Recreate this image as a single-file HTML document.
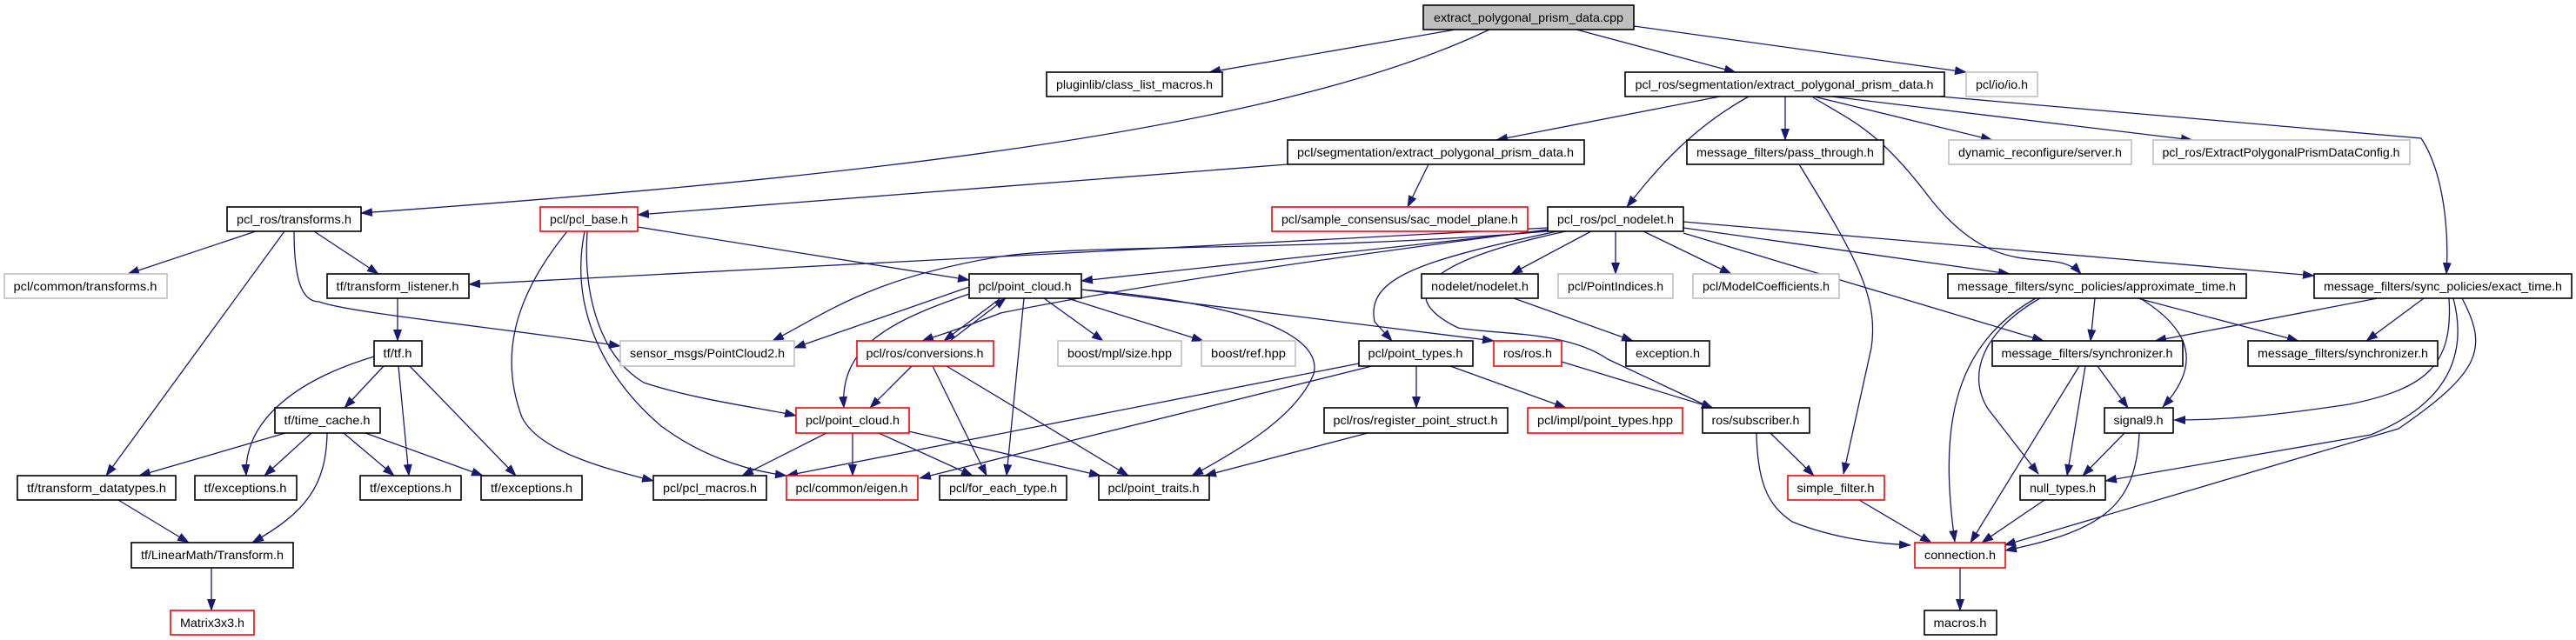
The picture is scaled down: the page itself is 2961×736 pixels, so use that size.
<!DOCTYPE html>
<html><head><meta charset="utf-8"><style>
html,body{margin:0;padding:0;background:#fff;}
svg{display:block;}
text{font-family:"Liberation Sans",sans-serif;font-size:14px;fill:#000;}
.b{fill:#fff;stroke:#000;stroke-width:1.6;}
.g{fill:#fff;stroke:#bfbfbf;stroke-width:1.6;}
.r{fill:#fff;stroke:#ff0000;stroke-width:1.6;}
.e{fill:none;stroke:#191970;stroke-width:1.3;marker-end:url(#a);}
</style></head><body>
<svg width="2961" height="736" viewBox="0 0 2961 736" xmlns="http://www.w3.org/2000/svg">
<defs><marker id="a" markerUnits="userSpaceOnUse" markerWidth="14" markerHeight="10" refX="13" refY="5" orient="auto"><path d="M0,0 L14,5 L0,10 z" fill="#191970"/></marker></defs>
<g>
<path class="e" d="M1673,34 L1390,83"/>
<path class="e" d="M1712,34 C1450,160 900,210 415,245"/>
<path class="e" d="M1812,34 L1995,83"/>
<path class="e" d="M1878,30 Q2100,60 2260,83"/>
<path class="e" d="M1977,111 L1720,161"/>
<path class="e" d="M2010,111 C1940,150 1900,200 1870,238"/>
<path class="e" d="M2052,111 L2052,161"/>
<path class="e" d="M2085,111 L2290,161"/>
<path class="e" d="M2105,111 L2520,161"/>
<path class="e" d="M2084,112 C2130,140 2160,150 2220,230 C2300,330 2360,280 2392,315"/>
<path class="e" d="M2230,111 L2783,159 C2810,200 2815,270 2812,315"/>
<path class="e" d="M1480,189 L733,247"/>
<path class="e" d="M1642,189 L1618,238"/>
<path class="e" d="M294,266 L147,315"/>
<path class="e" d="M361,266 L435,315"/>
<path class="e" d="M327,266 L122,547"/>
<path class="e" d="M338,266 C338,330 350,347 367,347 C400,360 600,380 713,398"/>
<path class="e" d="M733,261 L1114,322"/>
<path class="e" d="M652,266 C600,330 570,400 600,480 C620,520 700,540 751,553"/>
<path class="e" d="M672,266 C655,350 690,430 760,490 C800,520 850,540 904,547"/>
<path class="e" d="M675,266 C670,340 690,410 740,440 C800,460 880,470 915,478"/>
<path class="e" d="M1779,265 L1243,323"/>
<path class="e" d="M1779,262 L539,327"/>
<path class="e" d="M1779,266 C1500,290 1250,280 1150,295 C1000,320 950,360 888,392"/>
<path class="e" d="M1779,264 C1500,300 1300,330 1150,360 C1100,380 1080,385 1060,392"/>
<path class="e" d="M1829,266 L1737,315"/>
<path class="e" d="M1857,266 L1857,315"/>
<path class="e" d="M1889,266 L1990,315"/>
<path class="e" d="M1935,262 L2310,315"/>
<path class="e" d="M1935,255 L2660,317"/>
<path class="e" d="M1935,268 L2349,392"/>
<path class="e" d="M1790,266 C1630,300 1570,320 1580,370 L1600,392"/>
<path class="e" d="M1800,266 C1640,300 1600,340 1676,377 C1720,385 1800,380 1848,413 L1969,470"/>
<path class="e" d="M1114,330 L913,400"/>
<path class="e" d="M1150,343 L1085,392"/>
<path class="e" d="M1092,392 L1156,343"/>
<path class="e" d="M1114,338 C1020,370 965,400 970,469"/>
<path class="e" d="M1177,343 L1157,547"/>
<path class="e" d="M1200,343 L1268,392"/>
<path class="e" d="M1227,343 L1383,392"/>
<path class="e" d="M1243,333 C1450,350 1520,390 1510,430 C1490,480 1420,520 1370,547"/>
<path class="e" d="M1243,333 L1717,392"/>
<path class="e" d="M1048,421 L1000,469"/>
<path class="e" d="M1072,421 L1134,547"/>
<path class="e" d="M1088,421 L1297,547"/>
<path class="e" d="M950,498 L853,547"/>
<path class="e" d="M980,498 L980,547"/>
<path class="e" d="M1010,498 L1118,547"/>
<path class="e" d="M1040,495 L1265,547"/>
<path class="e" d="M457,343 L457,392"/>
<path class="e" d="M441,421 L396,469"/>
<path class="e" d="M430,410 C330,440 280,490 283,547"/>
<path class="e" d="M458,421 L470,547"/>
<path class="e" d="M471,421 L593,547"/>
<path class="e" d="M328,498 L160,547"/>
<path class="e" d="M358,498 L304,547"/>
<path class="e" d="M376,498 C375,560 350,590 290,624"/>
<path class="e" d="M395,498 L453,547"/>
<path class="e" d="M420,498 L555,547"/>
<path class="e" d="M136,575 L217,624"/>
<path class="e" d="M243,653 L243,702"/>
<path class="e" d="M1562,418 L904,547"/>
<path class="e" d="M1577,421 L1057,550"/>
<path class="e" d="M1628,421 L1628,469"/>
<path class="e" d="M1667,421 L1800,469"/>
<path class="e" d="M1572,498 L1385,547"/>
<path class="e" d="M1795,416 L1969,469"/>
<path class="e" d="M1740,343 L1877,392"/>
<path class="e" d="M2068,189 C2130,290 2160,340 2151,400 L2119,545"/>
<path class="e" d="M2035,498 L2085,547"/>
<path class="e" d="M2019,498 C2020,560 2035,583 2060,600 C2110,620 2160,625 2196,627"/>
<path class="e" d="M2137,575 L2220,624"/>
<path class="e" d="M2408,343 L2403,392"/>
<path class="e" d="M2457,343 L2642,392"/>
<path class="e" d="M2460,343 C2520,380 2530,420 2486,468"/>
<path class="e" d="M2345,343 C2280,380 2260,430 2285,470 L2343,545"/>
<path class="e" d="M2340,343 C2240,400 2230,500 2247,623"/>
<path class="e" d="M2733,343 L2477,392"/>
<path class="e" d="M2786,343 L2720,392"/>
<path class="e" d="M2815,343 C2820,420 2789,447 2700,465 C2600,480 2550,483 2499,483"/>
<path class="e" d="M2820,343 C2840,420 2800,470 2725,500 L2420,553"/>
<path class="e" d="M2830,343 C2860,400 2853,427 2757,493 L2304,627"/>
<path class="e" d="M2411,421 L2446,469"/>
<path class="e" d="M2397,421 L2376,547"/>
<path class="e" d="M2390,421 L2265,624"/>
<path class="e" d="M2442,498 L2394,547"/>
<path class="e" d="M2459,498 C2455,580 2420,610 2305,633"/>
<path class="e" d="M2350,575 L2278,624"/>
<path class="e" d="M2253,653 L2253,702"/>
</g>
<g>
<rect x="1636" y="6" width="242" height="28" fill="#bfbfbf" stroke="#000" stroke-width="1.6"/><text x="1757" y="25" text-anchor="middle" textLength="218" lengthAdjust="spacingAndGlyphs">extract_polygonal_prism_data.cpp</text>
<rect class="b" x="1203" y="83" width="202" height="28"/><text x="1304" y="102" text-anchor="middle" textLength="180" lengthAdjust="spacingAndGlyphs">pluginlib/class_list_macros.h</text>
<rect class="b" x="1868" y="83" width="367" height="28"/><text x="2051" y="102" text-anchor="middle" textLength="343" lengthAdjust="spacingAndGlyphs">pcl_ros/segmentation/extract_polygonal_prism_data.h</text>
<rect class="g" x="2260" y="83" width="82" height="28"/><text x="2301" y="102" text-anchor="middle" textLength="60" lengthAdjust="spacingAndGlyphs">pcl/io/io.h</text>
<rect class="b" x="1480" y="161" width="341" height="28"/><text x="1650" y="180" text-anchor="middle" textLength="318" lengthAdjust="spacingAndGlyphs">pcl/segmentation/extract_polygonal_prism_data.h</text>
<rect class="b" x="1939" y="161" width="226" height="28"/><text x="2052" y="180" text-anchor="middle" textLength="204" lengthAdjust="spacingAndGlyphs">message_filters/pass_through.h</text>
<rect class="g" x="2240" y="161" width="210" height="28"/><text x="2345" y="180" text-anchor="middle" textLength="188" lengthAdjust="spacingAndGlyphs">dynamic_reconfigure/server.h</text>
<rect class="g" x="2475" y="161" width="295" height="28"/><text x="2622" y="180" text-anchor="middle" textLength="273" lengthAdjust="spacingAndGlyphs">pcl_ros/ExtractPolygonalPrismDataConfig.h</text>
<rect class="b" x="261" y="238" width="154" height="28"/><text x="338" y="257" text-anchor="middle" textLength="132" lengthAdjust="spacingAndGlyphs">pcl_ros/transforms.h</text>
<rect class="r" x="621" y="238" width="112" height="28"/><text x="677" y="257" text-anchor="middle" textLength="90" lengthAdjust="spacingAndGlyphs">pcl/pcl_base.h</text>
<rect class="r" x="1462" y="238" width="294" height="28"/><text x="1609" y="257" text-anchor="middle" textLength="272" lengthAdjust="spacingAndGlyphs">pcl/sample_consensus/sac_model_plane.h</text>
<rect class="b" x="1779" y="238" width="156" height="28"/><text x="1857" y="257" text-anchor="middle" textLength="134" lengthAdjust="spacingAndGlyphs">pcl_ros/pcl_nodelet.h</text>
<rect class="g" x="5" y="315" width="187" height="28"/><text x="98" y="334" text-anchor="middle" textLength="165" lengthAdjust="spacingAndGlyphs">pcl/common/transforms.h</text>
<rect class="b" x="376" y="315" width="163" height="28"/><text x="457" y="334" text-anchor="middle" textLength="141" lengthAdjust="spacingAndGlyphs">tf/transform_listener.h</text>
<rect class="b" x="1114" y="315" width="129" height="28"/><text x="1178" y="334" text-anchor="middle" textLength="107" lengthAdjust="spacingAndGlyphs">pcl/point_cloud.h</text>
<rect class="b" x="1634" y="315" width="134" height="28"/><text x="1701" y="334" text-anchor="middle" textLength="112" lengthAdjust="spacingAndGlyphs">nodelet/nodelet.h</text>
<rect class="g" x="1791" y="315" width="132" height="28"/><text x="1857" y="334" text-anchor="middle" textLength="110" lengthAdjust="spacingAndGlyphs">pcl/PointIndices.h</text>
<rect class="g" x="1946" y="315" width="168" height="28"/><text x="2030" y="334" text-anchor="middle" textLength="146" lengthAdjust="spacingAndGlyphs">pcl/ModelCoefficients.h</text>
<rect class="b" x="2239" y="315" width="343" height="28"/><text x="2410" y="334" text-anchor="middle" textLength="320" lengthAdjust="spacingAndGlyphs">message_filters/sync_policies/approximate_time.h</text>
<rect class="b" x="2660" y="315" width="296" height="28"/><text x="2808" y="334" text-anchor="middle" textLength="274" lengthAdjust="spacingAndGlyphs">message_filters/sync_policies/exact_time.h</text>
<rect class="b" x="430" y="392" width="55" height="29"/><text x="457" y="411" text-anchor="middle" textLength="33" lengthAdjust="spacingAndGlyphs">tf/tf.h</text>
<rect class="g" x="713" y="392" width="200" height="29"/><text x="813" y="411" text-anchor="middle" textLength="178" lengthAdjust="spacingAndGlyphs">sensor_msgs/PointCloud2.h</text>
<rect class="r" x="985" y="392" width="157" height="29"/><text x="1063" y="411" text-anchor="middle" textLength="135" lengthAdjust="spacingAndGlyphs">pcl/ros/conversions.h</text>
<rect class="g" x="1216" y="392" width="142" height="29"/><text x="1287" y="411" text-anchor="middle" textLength="120" lengthAdjust="spacingAndGlyphs">boost/mpl/size.hpp</text>
<rect class="g" x="1381" y="392" width="108" height="29"/><text x="1435" y="411" text-anchor="middle" textLength="86" lengthAdjust="spacingAndGlyphs">boost/ref.hpp</text>
<rect class="b" x="1562" y="392" width="131" height="29"/><text x="1627" y="411" text-anchor="middle" textLength="109" lengthAdjust="spacingAndGlyphs">pcl/point_types.h</text>
<rect class="r" x="1717" y="392" width="78" height="29"/><text x="1756" y="411" text-anchor="middle" textLength="56" lengthAdjust="spacingAndGlyphs">ros/ros.h</text>
<rect class="b" x="1869" y="392" width="96" height="29"/><text x="1917" y="411" text-anchor="middle" textLength="74" lengthAdjust="spacingAndGlyphs">exception.h</text>
<rect class="b" x="2290" y="392" width="219" height="29"/><text x="2399" y="411" text-anchor="middle" textLength="197" lengthAdjust="spacingAndGlyphs">message_filters/synchronizer.h</text>
<rect class="b" x="2584" y="392" width="218" height="29"/><text x="2693" y="411" text-anchor="middle" textLength="196" lengthAdjust="spacingAndGlyphs">message_filters/synchronizer.h</text>
<rect class="b" x="316" y="469" width="121" height="29"/><text x="376" y="488" text-anchor="middle" textLength="99" lengthAdjust="spacingAndGlyphs">tf/time_cache.h</text>
<rect class="r" x="915" y="469" width="130" height="29"/><text x="980" y="488" text-anchor="middle" textLength="108" lengthAdjust="spacingAndGlyphs">pcl/point_cloud.h</text>
<rect class="b" x="1522" y="469" width="211" height="29"/><text x="1627" y="488" text-anchor="middle" textLength="189" lengthAdjust="spacingAndGlyphs">pcl/ros/register_point_struct.h</text>
<rect class="r" x="1756" y="469" width="178" height="29"/><text x="1845" y="488" text-anchor="middle" textLength="156" lengthAdjust="spacingAndGlyphs">pcl/impl/point_types.hpp</text>
<rect class="b" x="1957" y="469" width="123" height="29"/><text x="2018" y="488" text-anchor="middle" textLength="101" lengthAdjust="spacingAndGlyphs">ros/subscriber.h</text>
<rect class="b" x="2419" y="469" width="79" height="29"/><text x="2458" y="488" text-anchor="middle" textLength="57" lengthAdjust="spacingAndGlyphs">signal9.h</text>
<rect class="b" x="20" y="547" width="182" height="28"/><text x="111" y="566" text-anchor="middle" textLength="160" lengthAdjust="spacingAndGlyphs">tf/transform_datatypes.h</text>
<rect class="b" x="224" y="547" width="117" height="28"/><text x="282" y="566" text-anchor="middle" textLength="95" lengthAdjust="spacingAndGlyphs">tf/exceptions.h</text>
<rect class="b" x="414" y="547" width="116" height="28"/><text x="472" y="566" text-anchor="middle" textLength="94" lengthAdjust="spacingAndGlyphs">tf/exceptions.h</text>
<rect class="b" x="553" y="547" width="116" height="28"/><text x="611" y="566" text-anchor="middle" textLength="94" lengthAdjust="spacingAndGlyphs">tf/exceptions.h</text>
<rect class="b" x="751" y="547" width="130" height="28"/><text x="816" y="566" text-anchor="middle" textLength="108" lengthAdjust="spacingAndGlyphs">pcl/pcl_macros.h</text>
<rect class="r" x="904" y="547" width="151" height="28"/><text x="979" y="566" text-anchor="middle" textLength="129" lengthAdjust="spacingAndGlyphs">pcl/common/eigen.h</text>
<rect class="b" x="1080" y="547" width="146" height="28"/><text x="1153" y="566" text-anchor="middle" textLength="124" lengthAdjust="spacingAndGlyphs">pcl/for_each_type.h</text>
<rect class="b" x="1263" y="547" width="127" height="28"/><text x="1326" y="566" text-anchor="middle" textLength="105" lengthAdjust="spacingAndGlyphs">pcl/point_traits.h</text>
<rect class="r" x="2055" y="547" width="111" height="28"/><text x="2110" y="566" text-anchor="middle" textLength="89" lengthAdjust="spacingAndGlyphs">simple_filter.h</text>
<rect class="b" x="2322" y="547" width="98" height="28"/><text x="2371" y="566" text-anchor="middle" textLength="76" lengthAdjust="spacingAndGlyphs">null_types.h</text>
<rect class="b" x="151" y="624" width="186" height="29"/><text x="244" y="643" text-anchor="middle" textLength="164" lengthAdjust="spacingAndGlyphs">tf/LinearMath/Transform.h</text>
<rect class="r" x="2201" y="624" width="104" height="29"/><text x="2253" y="643" text-anchor="middle" textLength="82" lengthAdjust="spacingAndGlyphs">connection.h</text>
<rect class="r" x="196" y="702" width="96" height="28"/><text x="244" y="721" text-anchor="middle" textLength="74" lengthAdjust="spacingAndGlyphs">Matrix3x3.h</text>
<rect class="b" x="2212" y="702" width="83" height="28"/><text x="2253" y="721" text-anchor="middle" textLength="61" lengthAdjust="spacingAndGlyphs">macros.h</text>
</g>
</svg>
</body></html>
